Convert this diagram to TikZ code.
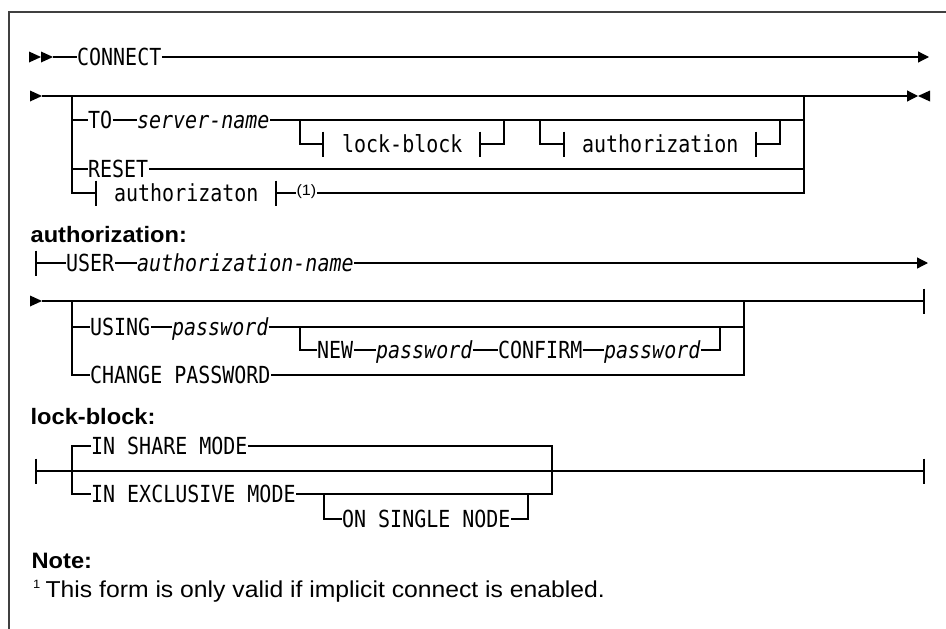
\documentclass[tikz,border=0pt]{standalone}
\usepackage{fontspec}
\usetikzlibrary{arrows.meta}
\newfontfamily\rrfont[FakeStretch=0.85]{DejaVu Sans Mono}
\newfontfamily\hdfont[FakeStretch=1.06]{Liberation Sans}
\newfontfamily\ntfont[FakeStretch=1.075]{Liberation Sans}
\begin{document}
\begin{tikzpicture}[x=1pt,y=-1pt,line width=1.25pt,
  kw/.style={font=\rrfont\fontsize{23.5}{23.5}\selectfont, inner sep=0pt, text height=17.1pt, text depth=0pt, anchor=west},
  var/.style={font=\rrfont\itshape\fontsize{23.5}{23.5}\selectfont, inner sep=0pt, text height=17.1pt, text depth=0pt, anchor=west},
  hd/.style={font=\hdfont\bfseries\fontsize{22.3}{22.3}\selectfont, inner sep=0pt, anchor=base west},
  nt/.style={font=\ntfont\fontsize{23}{23}\selectfont, inner sep=0pt, anchor=base west},
  smallnum/.style={font=\ntfont\fontsize{15}{15}\selectfont, inner sep=1pt, anchor=base west},
  fnmark/.style={font=\ntfont\fontsize{12}{12}\selectfont, inner sep=0pt, anchor=base west},
  endarrow/.style={-{Triangle[length=11pt,width=11pt]}},
  vbar/.pic={\draw (0,-12.5) -- (0,12.5);},
  rtri/.pic={\fill (0,-5.5) -- (12,0) -- (0,5.5) -- cycle;},
  ltri/.pic={\fill (0,-5.5) -- (-12,0) -- (0,5.5) -- cycle;}
]
\useasboundingbox (0,0) rectangle (946,629);
% frame
\draw[line width=2pt, black!75] (9,629) -- (9,11.5) -- (946,11.5);

% ---------- Row 1 ----------
\coordinate (t1a) at (29,57);
\coordinate (t1b) at (41,57);
\pic at (t1a) {rtri};
\pic at (t1b) {rtri};
\coordinate (r1a) at (53,57);
\coordinate (r1e) at (929,57);
\node[kw] (connect) at (76.5,57) {CONNECT};
\draw (r1a) -- (connect.west);
\draw[endarrow] (connect.east) -- (r1e);

% ---------- Row 2 ----------
\coordinate (t2a) at (30,96);
\pic at (t2a) {rtri};
\coordinate (r2a) at (42,96);
\coordinate (r2j) at (72,96);
\coordinate (r2k) at (804,96);
\coordinate (r2e) at (918,96);
\coordinate (r2z) at (930,96);
\draw[endarrow] (r2a) -- (r2e);
\pic at (r2z) {ltri};

\node[kw] (to) at (87.5,120) {TO};
\node[var] (srv) at (136.5,120) {server-name};
\node[kw] (reset) at (87.5,169) {RESET};
\coordinate (aB1) at (96,193);
\coordinate (aB2) at (276,193);
\node[kw] (authz) at (113.5,193) {authorizaton};

\draw (r2j) |- (to.west);
\draw (r2j) |- (reset.west);
\draw (r2j) |- (aB1);
\draw (to.east) -- (srv.west);
\draw (srv.east) -| (r2k);
\draw (reset.east) -| (r2k);
\draw (aB2) -| (r2k);
\pic at (aB1) {vbar};
\pic at (aB2) {vbar};
\node[smallnum, fill=white] (n1) at (295,195.5) {(1)};

% lock-block sub-branch
\coordinate (lb0) at (300,120);
\coordinate (lbL) at (323,144);
\coordinate (lbR) at (480,144);
\coordinate (lb1) at (504,120);
\node[kw] (lbk) at (341.5,144) {lock-block};
\draw (lb0) |- (lbL);
\draw (lbR) -| (lb1);
\pic at (lbL) {vbar};
\pic at (lbR) {vbar};

% authorization sub-branch
\coordinate (au0) at (540,120);
\coordinate (auL) at (564,144);
\coordinate (auR) at (756,144);
\coordinate (au1) at (780,120);
\node[kw] (aut) at (581.5,144) {authorization};
\draw (au0) |- (auL);
\draw (auR) -| (au1);
\pic at (auL) {vbar};
\pic at (auR) {vbar};

% ---------- authorization ----------
\node[hd] (h1) at (30,242.5) {authorization:};
\coordinate (a1s) at (36,263);
\coordinate (a1e) at (928,263);
\node[kw] (user) at (65.5,263) {USER};
\node[var] (aname) at (136.5,263) {authorization-name};
\pic at (a1s) {vbar};
\draw (a1s) -- (user.west);
\draw (user.east) -- (aname.west);
\draw[endarrow] (aname.east) -- (a1e);

\coordinate (t3a) at (30,301);
\pic at (t3a) {rtri};
\coordinate (a2s) at (42,301);
\coordinate (a2j) at (72,301);
\coordinate (a2k) at (744,301);
\coordinate (a2e) at (924,301);
\draw (a2s) -- (a2e);
\pic at (a2e) {vbar};

\node[kw] (using) at (89.5,327) {USING};
\node[var] (pw1) at (171.5,327) {password};
\draw (a2j) |- (using.west);
\draw (using.east) -- (pw1.west);
\draw (pw1.east) -| (a2k);

\coordinate (nw0) at (300,327);
\coordinate (nw1) at (720,327);
\node[kw] (new) at (316.5,350) {NEW};
\node[var] (pw2) at (375.5,350) {password};
\node[kw] (confirm) at (497.5,350) {CONFIRM};
\node[var] (pw3) at (603.5,350) {password};
\draw (nw0) |- (new.west);
\draw (new.east) -- (pw2.west);
\draw (pw2.east) -- (confirm.west);
\draw (confirm.east) -- (pw3.west);
\draw (pw3.east) -| (nw1);

\node[kw] (chg) at (89.5,375) {CHANGE PASSWORD};
\draw (a2j) |- (chg.west);
\draw (chg.east) -| (a2k);

% ---------- lock-block ----------
\node[hd] (h2) at (30,424) {lock-block:};
\coordinate (l1s) at (36,471);
\coordinate (l1j) at (72,471);
\coordinate (l1k) at (552,471);
\coordinate (l1e) at (924,471);
\draw (l1s) -- (l1e);
\pic at (l1s) {vbar};
\pic at (l1e) {vbar};
\node[kw] (share) at (90.5,446) {IN SHARE MODE};
\node[kw] (excl) at (90.5,494) {IN EXCLUSIVE MODE};
\draw (share.west) -| (l1j) |- (excl.west);
\draw (share.east) -| (l1k) |- (excl.east);

\coordinate (os0) at (324,494);
\coordinate (os1) at (528,494);
\node[kw] (osn) at (341.5,519) {ON SINGLE NODE};
\draw (os0) |- (osn.west);
\draw (osn.east) -| (os1);

% ---------- Note ----------
\node[hd] (h3) at (31,568) {Note:};
\node[fnmark] (fnm) at (32.5,588) {1};
\node[nt] (fnt) at (45,597) {This form is only valid if implicit connect is enabled.};
\end{tikzpicture}
\end{document}
